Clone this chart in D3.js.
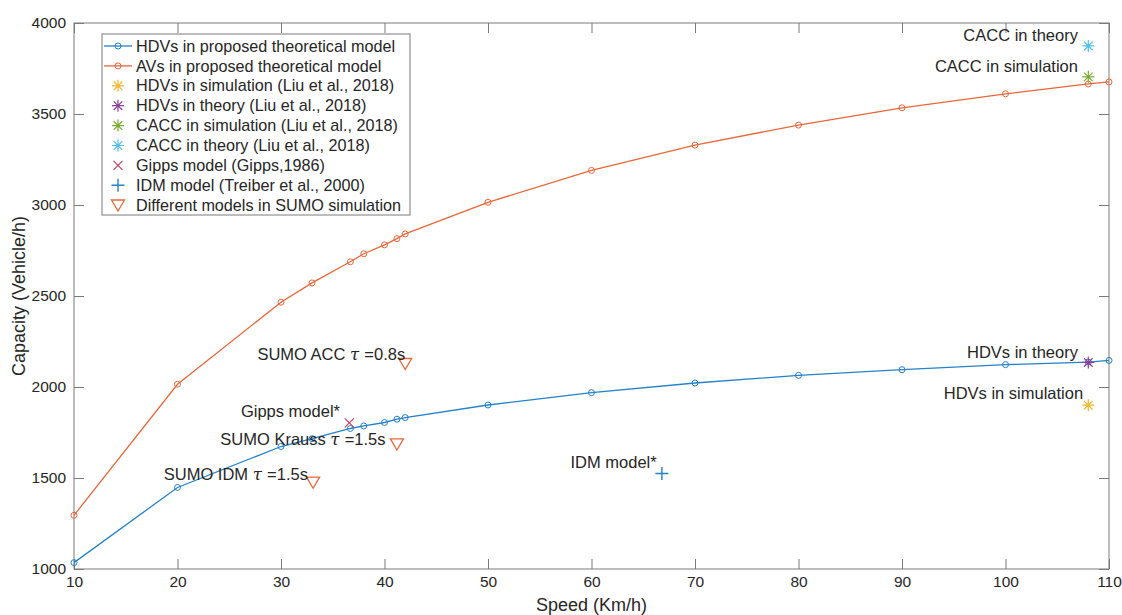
<!DOCTYPE html>
<html>
<head>
<meta charset="utf-8">
<script src="https://cdn.jsdelivr.net/npm/d3@7"></script>
<style>
body { margin:0; background:#fff; }
text { font-family: "Liberation Sans", Arial, Helvetica, sans-serif; fill:#262626; }
</style>
</head>
<body>
<svg id="chart" width="1122" height="615"></svg>
<script>
// speeds shared by both model curves
var speeds = [10, 20, 30, 33, 36.7, 38, 40, 41.2, 42, 50, 60, 70, 80, 90, 100, 108, 110];
var hdvCap = [1035, 1448, 1673, 1716, 1772, 1786, 1805, 1823, 1832, 1901, 1969, 2022, 2064, 2095, 2123, 2137, 2146];
var avCap  = [1295, 2015, 2466, 2572, 2688, 2732, 2781, 2815, 2841, 3015, 3190, 3329, 3439, 3534, 3611, 3665, 3676];

// single reference points [speed, capacity]
var hdvSim = [108, 1900];
var hdvTheory = [108, 2135];
var caccSim = [108, 3704];
var caccTheory = [108, 3874];
var gipps = [36.6, 1803];
var idm = [66.8, 1525];
var sumoPts = [[33.1, 1476], [41.2, 1686], [42.0, 2128]];

// annotations: text, speed, capacity (right aligned at that point)
var noteText = ["SUMO ACC |=0.8s", "Gipps model*", "SUMO Krauss |=1.5s", "SUMO IDM |=1.5s", "IDM model*",
                "CACC in theory", "CACC in simulation", "HDVs in theory", "HDVs in simulation"];
var noteX = [42.0, 35.7, 40.1, 32.6, 66.3, 107, 107, 107, 107.5];
var noteY = [2180, 1868, 1713, 1521, 1586, 3934, 3760, 2192, 1965];

var legendNames = ["HDVs in proposed theoretical model", "AVs in proposed theoretical model",
  "HDVs in simulation (Liu et al., 2018)", "HDVs in theory (Liu et al., 2018)",
  "CACC in simulation (Liu et al., 2018)", "CACC in theory (Liu et al., 2018)",
  "Gipps model (Gipps,1986)", "IDM model (Treiber et al., 2000)", "Different models in SUMO simulation"];

var xTicks = [10, 20, 30, 40, 50, 60, 70, 80, 90, 100, 110];
var yTicks = [1000, 1500, 2000, 2500, 3000, 3500, 4000];

var cBlue = "#2581c9", cOrange = "#e8673a", cYellow = "#f2b630", cPurple = "#8a3f9a",
    cGreen = "#77ac30", cCyan = "#4dbeee", cRed = "#c0405a";

var margin = {left: 74, top: 23, right: 13, bottom: 46};
var width = 1122 - margin.left - margin.right;
var height = 615 - margin.top - margin.bottom;

var svg = d3.select("#chart").append("g")
    .attr("transform", "translate(" + margin.left + "," + margin.top + ")");

var xScale = d3.scaleLinear().domain([10, 110]).range([0, width]);
var yScale = d3.scaleLinear().domain([1000, 4000]).range([height, 0]);

// box
svg.append("rect").attr("width", width).attr("height", height)
   .attr("fill", "none").attr("stroke", "#7a7a7a").attr("stroke-width", 1);

// axes, ticks inward
var tk = 10;
var xAxis = d3.axisBottom(xScale).tickValues(xTicks).tickSize(-tk).tickPadding(7).tickFormat(d3.format("d"));
var yAxis = d3.axisLeft(yScale).tickValues(yTicks).tickSize(-tk).tickPadding(8).tickFormat(d3.format("d"));

svg.append("g").attr("class", "x axis").attr("transform", "translate(0," + height + ")").call(xAxis);
svg.append("g").attr("class", "y axis").call(yAxis);
svg.append("g").attr("class", "x2 axis").call(d3.axisTop(xScale).tickValues(xTicks).tickSize(-tk).tickFormat(""));
svg.append("g").attr("class", "y2 axis").attr("transform", "translate(" + width + ",0)")
   .call(d3.axisRight(yScale).tickValues(yTicks).tickSize(-tk).tickFormat(""));

svg.selectAll(".axis path.domain").remove();
svg.selectAll(".axis line").attr("stroke", "#7a7a7a");
svg.selectAll(".axis text").style("font-size", "15.5px").style("fill", "#262626")
   .style("font-family", "'Liberation Sans', Arial, sans-serif");

// axis titles
svg.append("text").attr("x", width / 2).attr("y", height + 42)
   .style("text-anchor", "middle").style("font-size", "18px").text("Speed (Km/h)");
svg.append("text").attr("transform", "rotate(-90)")
   .attr("x", -height / 2).attr("y", -49)
   .style("text-anchor", "middle").style("font-size", "18px").text("Capacity (Vehicle/h)");

// curves
function drawCurve(vals, col) {
  var pts = speeds.map(function(s, i) { return [s, vals[i]]; });
  var line = d3.line().x(function(d) { return xScale(d[0]); }).y(function(d) { return yScale(d[1]); });
  svg.append("path").datum(pts).attr("d", line)
     .attr("fill", "none").attr("stroke", col).attr("stroke-width", 1.3);
  svg.append("g").selectAll("circle").data(pts).enter().append("circle")
     .attr("cx", function(d) { return xScale(d[0]); })
     .attr("cy", function(d) { return yScale(d[1]); })
     .attr("r", 3).attr("fill", "none").attr("stroke", col).attr("stroke-width", 1);
}
drawCurve(hdvCap, cBlue);
drawCurve(avCap, cOrange);

// marker shapes
function starPath(r) {
  var q = r * 0.72;
  return "M" + (-r) + ",0H" + r + "M0," + (-r) + "V" + r +
         "M" + (-q) + "," + (-q) + "L" + q + "," + q + "M" + (-q) + "," + q + "L" + q + "," + (-q);
}
function plusPath(r) { return "M" + (-r) + ",0H" + r + "M0," + (-r) + "V" + r; }
function crossPath(r) { return "M" + (-r) + "," + (-r) + "L" + r + "," + r + "M" + (-r) + "," + r + "L" + r + "," + (-r); }
function triPath(r) { return "M" + (-r) + "," + (-r * 0.8) + "L" + r + "," + (-r * 0.8) + "L0," + (r * 0.9) + "Z"; }

function marker(g, x, y, d, col, sw) {
  g.append("path").attr("d", d).attr("transform", "translate(" + x + "," + y + ")")
   .attr("fill", "none").attr("stroke", col).attr("stroke-width", sw || 1.2);
}

marker(svg, xScale(hdvSim[0]), yScale(hdvSim[1]), starPath(6), cYellow);
marker(svg, xScale(hdvTheory[0]), yScale(hdvTheory[1]), starPath(6), cPurple);
marker(svg, xScale(caccSim[0]), yScale(caccSim[1]), starPath(6), cGreen);
marker(svg, xScale(caccTheory[0]), yScale(caccTheory[1]), starPath(6), cCyan);
marker(svg, xScale(gipps[0]), yScale(gipps[1]), crossPath(4.5), cRed);
marker(svg, xScale(idm[0]), yScale(idm[1]), plusPath(6.5), cBlue, 1.4);
sumoPts.forEach(function(p) {
  marker(svg, xScale(p[0]), yScale(p[1]), triPath(6.5), cOrange, 1.3);
});

// annotations
noteText.forEach(function(t, i) {
  var parts = t.split("|");
  var txt = svg.append("text").attr("x", xScale(noteX[i])).attr("y", yScale(noteY[i]))
     .attr("dy", "0.35em").style("text-anchor", "end").style("font-size", "16.5px");
  txt.append("tspan").text(parts[0]);
  if (parts.length > 1) {
    txt.append("tspan").style("font-style", "italic")
       .style("font-family", "'DejaVu Serif', 'Liberation Serif', serif").text("\u03c4 ");
    txt.append("tspan").text(parts[1]);
  }
});

// legend
var lg = svg.append("g").attr("transform", "translate(28,11)");
lg.append("rect").attr("width", 308).attr("height", 181)
  .attr("fill", "#fff").attr("stroke", "#7a7a7a").attr("stroke-width", 1);

var legendCols = [cBlue, cOrange, cYellow, cPurple, cGreen, cCyan, cRed, cBlue, cOrange];
legendNames.forEach(function(name, i) {
  var cy = 12 + i * 19.9;
  var mx = 16;
  if (i < 2) {
    lg.append("line").attr("x1", 2).attr("x2", 30).attr("y1", cy).attr("y2", cy)
      .attr("stroke", legendCols[i]).attr("stroke-width", 1.3);
    lg.append("circle").attr("cx", mx).attr("cy", cy).attr("r", 3)
      .attr("fill", "none").attr("stroke", legendCols[i]);
  } else if (i < 6) {
    marker(lg, mx, cy, starPath(6), legendCols[i]);
  } else if (i == 6) {
    marker(lg, mx, cy, crossPath(4.5), legendCols[i]);
  } else if (i == 7) {
    marker(lg, mx, cy, plusPath(6.5), legendCols[i], 1.4);
  } else {
    marker(lg, mx, cy, triPath(6.5), legendCols[i], 1.3);
  }
  lg.append("text").attr("x", 34).attr("y", cy).attr("dy", "0.35em")
    .style("font-size", "16.2px").text(name);
});
</script>
</body>
</html>
